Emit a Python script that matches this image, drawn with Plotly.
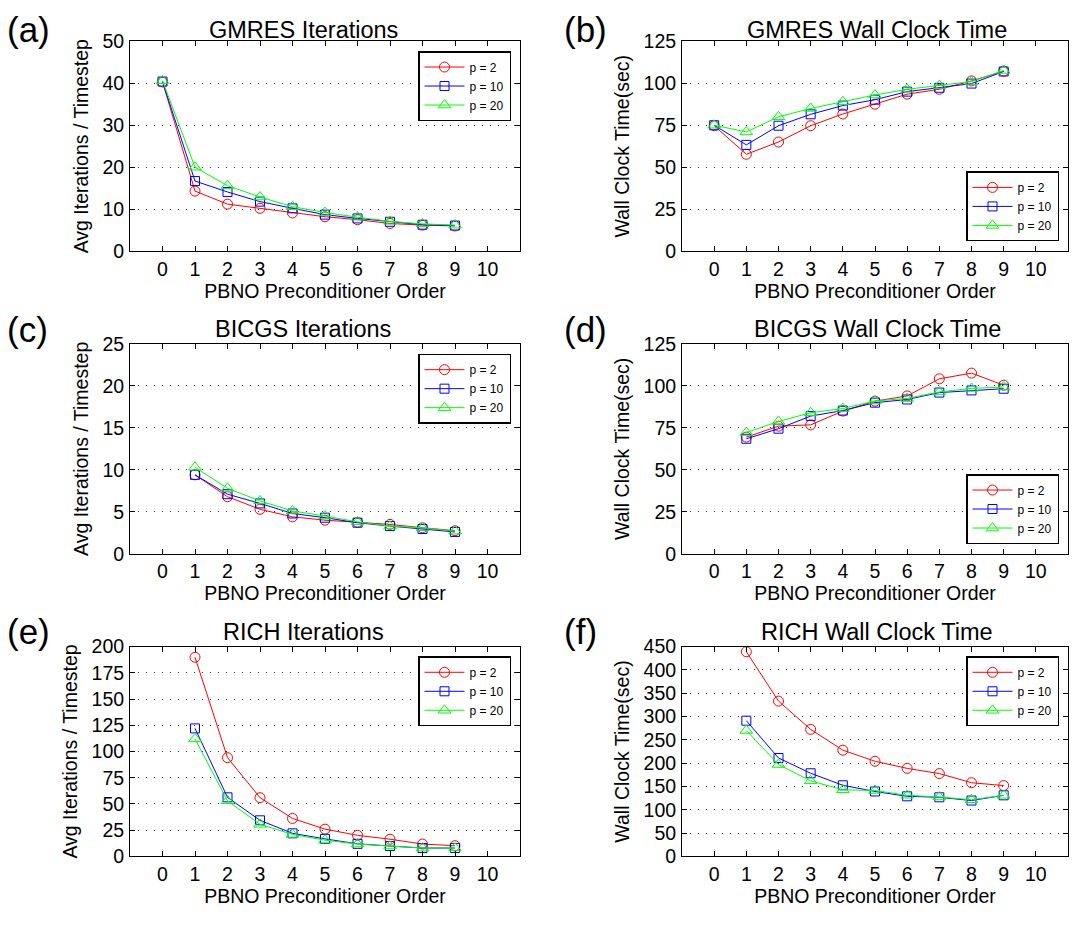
import plotly.graph_objects as go

# ---------------- data ----------------
orders_gmres = [0, 1, 2, 3, 4, 5, 6, 7, 8, 9]
orders = [1, 2, 3, 4, 5, 6, 7, 8, 9]
series_names = ["p = 2", "p = 10", "p = 20"]

gmres_iter_p2 = [40.3, 14.3, 11.2, 10.2, 9.1, 8.2, 7.5, 6.6, 6.2, 6.0]
gmres_iter_p10 = [40.4, 16.7, 14.1, 11.8, 10.2, 8.7, 7.8, 7.0, 6.3, 6.1]
gmres_iter_p20 = [40.6, 20.0, 15.6, 12.9, 10.6, 9.2, 8.1, 7.1, 6.5, 6.2]

gmres_time_p2 = [74.7, 57.7, 65.0, 74.7, 81.7, 87.5, 93.5, 96.4, 101.4, 107.2]
gmres_time_p10 = [75.0, 63.3, 74.7, 81.5, 86.7, 90.2, 95.0, 97.3, 99.8, 107.0]
gmres_time_p20 = [75.0, 71.0, 80.0, 85.0, 89.0, 93.0, 96.4, 98.6, 101.0, 107.6]

bicgs_iter_p2 = [9.4, 6.8, 5.3, 4.4, 4.0, 3.75, 3.5, 3.1, 2.75]
bicgs_iter_p10 = [9.4, 7.1, 6.0, 4.8, 4.3, 3.7, 3.3, 2.95, 2.6]
bicgs_iter_p20 = [10.3, 7.8, 6.3, 5.1, 4.5, 3.8, 3.3, 3.1, 2.7]

bicgs_time_p2 = [69.5, 76.0, 76.8, 85.0, 90.9, 94.0, 104.2, 107.6, 100.4]
bicgs_time_p10 = [68.5, 74.5, 82.0, 85.3, 90.0, 91.9, 96.0, 97.3, 98.3]
bicgs_time_p20 = [72.2, 78.8, 84.0, 86.5, 91.0, 92.5, 96.4, 98.5, 99.3]

rich_iter_p2 = [189.8, 94.1, 56.0, 36.2, 26.0, 20.1, 16.4, 11.8, 10.2]
rich_iter_p10 = [122.0, 56.3, 34.4, 22.0, 16.7, 12.0, 9.9, 8.0, 8.0]
rich_iter_p20 = [112.0, 53.0, 30.6, 21.0, 15.5, 11.8, 9.9, 8.0, 8.0]

rich_time_p2 = [438.8, 333.0, 272.4, 227.8, 204.0, 188.8, 177.6, 158.0, 151.9]
rich_time_p10 = [291.0, 211.0, 178.3, 152.5, 139.3, 128.9, 126.8, 119.8, 131.0]
rich_time_p20 = [270.0, 197.0, 162.0, 142.8, 141.4, 131.0, 127.5, 121.5, 131.0]

x_tick_vals = [0, 1, 2, 3, 4, 5, 6, 7, 8, 9, 10]

panel_labels = ["(a)", "(b)", "(c)", "(d)", "(e)", "(f)"]
panel_titles = ["GMRES Iterations", "GMRES Wall Clock Time",
                "BICGS Iterations", "BICGS Wall Clock Time",
                "RICH Iterations", "RICH Wall Clock Time"]
y_titles = ["Avg Iterations / Timestep", "Wall Clock Time(sec)"] * 3
y_ranges = [[0, 50], [0, 125], [0, 25], [0, 125], [0, 200], [0, 450]]
y_dticks = [10, 25, 5, 25, 25, 50]

panels = [
    (orders_gmres, [gmres_iter_p2, gmres_iter_p10, gmres_iter_p20]),
    (orders_gmres, [gmres_time_p2, gmres_time_p10, gmres_time_p20]),
    (orders, [bicgs_iter_p2, bicgs_iter_p10, bicgs_iter_p20]),
    (orders, [bicgs_time_p2, bicgs_time_p10, bicgs_time_p20]),
    (orders, [rich_iter_p2, rich_iter_p10, rich_iter_p20]),
    (orders, [rich_time_p2, rich_time_p10, rich_time_p20]),
]

# ---------------- styles ----------------
W, H = 1085, 926
FONT = "Liberation Sans, Arial, Helvetica, sans-serif"
colors = ["#FF0000", "#0000FF", "#00FF00"]
symbols = ["circle-open", "square-open", "triangle-up-open"]
msizes = [10, 9, 11]
AX_FONT = 19.5

col_px = [(130, 520), (682, 1068)]
row_px = [(31, 246), (341, 556), (651, 866)]
title_cx = [303, 877]
label_x = [5, 562]
label_cy = [19, 326, 636]
# legend (x right edge px, y px, anchor)
legend_pos = [(511, 41, "top"), (1059, 236, "bottom"),
              (511, 351, "top"), (1059, 546, "bottom"),
              (511, 661, "top"), (1059, 661, "top")]

fig = go.Figure()
layout = dict(width=W, height=H, margin=dict(l=0, r=0, t=0, b=0),
              paper_bgcolor="white", plot_bgcolor="white",
              font=dict(family=FONT, size=AX_FONT, color="black"),
              annotations=[])

for i, (xs, ys_list) in enumerate(panels):
    r, c = divmod(i, 2)
    n = i + 1
    xk = "xaxis" if n == 1 else f"xaxis{n}"
    yk = "yaxis" if n == 1 else f"yaxis{n}"
    xr = "x" if n == 1 else f"x{n}"
    yr = "y" if n == 1 else f"y{n}"
    lg = "legend" if n == 1 else f"legend{n}"
    x0, x1 = col_px[c]
    y0, y1 = row_px[r]
    layout[xk] = dict(domain=[x0 / W, x1 / W], anchor=yr, range=[-1, 11],
                      tickvals=x_tick_vals, ticks="inside", ticklen=5,
                      tickcolor="black", mirror="ticks", showline=True,
                      linecolor="black", linewidth=1, showgrid=False,
                      zeroline=False, tickfont=dict(size=AX_FONT),
                      title=dict(text="PBNO Preconditioner Order",
                                 font=dict(size=AX_FONT), standoff=3))
    layout[yk] = dict(domain=[1 - y1 / H, 1 - y0 / H], anchor=xr,
                      range=y_ranges[i], dtick=y_dticks[i], tick0=0,
                      ticks="inside", ticklen=5, tickcolor="black",
                      mirror="ticks", showline=True, linecolor="black",
                      linewidth=1, showgrid=True, gridcolor="#333333",
                      griddash="1px,7px", gridwidth=1, zeroline=False,
                      tickfont=dict(size=AX_FONT), ticklabelstandoff=1,
                      title=dict(text=y_titles[i], font=dict(size=AX_FONT),
                                 standoff=8))
    lx, ly, anc = legend_pos[i]
    layout[lg] = dict(x=lx / W, y=1 - ly / H, xanchor="right", yanchor=anc,
                      bgcolor="white", bordercolor="black", borderwidth=1.5,
                      font=dict(size=12, family=FONT), tracegroupgap=0,
                      itemwidth=40, entrywidth=100, entrywidthmode="pixels")
    for k, ys in enumerate(ys_list):
        fig.add_trace(go.Scatter(
            x=xs, y=ys, mode="lines+markers", name=series_names[k],
            line=dict(color=colors[k], width=1),
            marker=dict(symbol=symbols[k], size=msizes[k], color=colors[k],
                        line=dict(width=1, color=colors[k])),
            xaxis=xr, yaxis=yr, legend=lg, showlegend=True))
    layout["annotations"].append(dict(
        text=panel_titles[i], x=title_cx[c] / W, y=1 - label_cy[r] / H,
        xref="paper", yref="paper", xanchor="center", yanchor="middle",
        showarrow=False, font=dict(size=23.5)))
    layout["annotations"].append(dict(
        text=panel_labels[i], x=label_x[c] / W, y=1 - label_cy[r] / H,
        xref="paper", yref="paper", xanchor="left", yanchor="middle",
        showarrow=False, font=dict(size=35)))

fig.update_layout(**layout)
fig.write_html("out.html")
